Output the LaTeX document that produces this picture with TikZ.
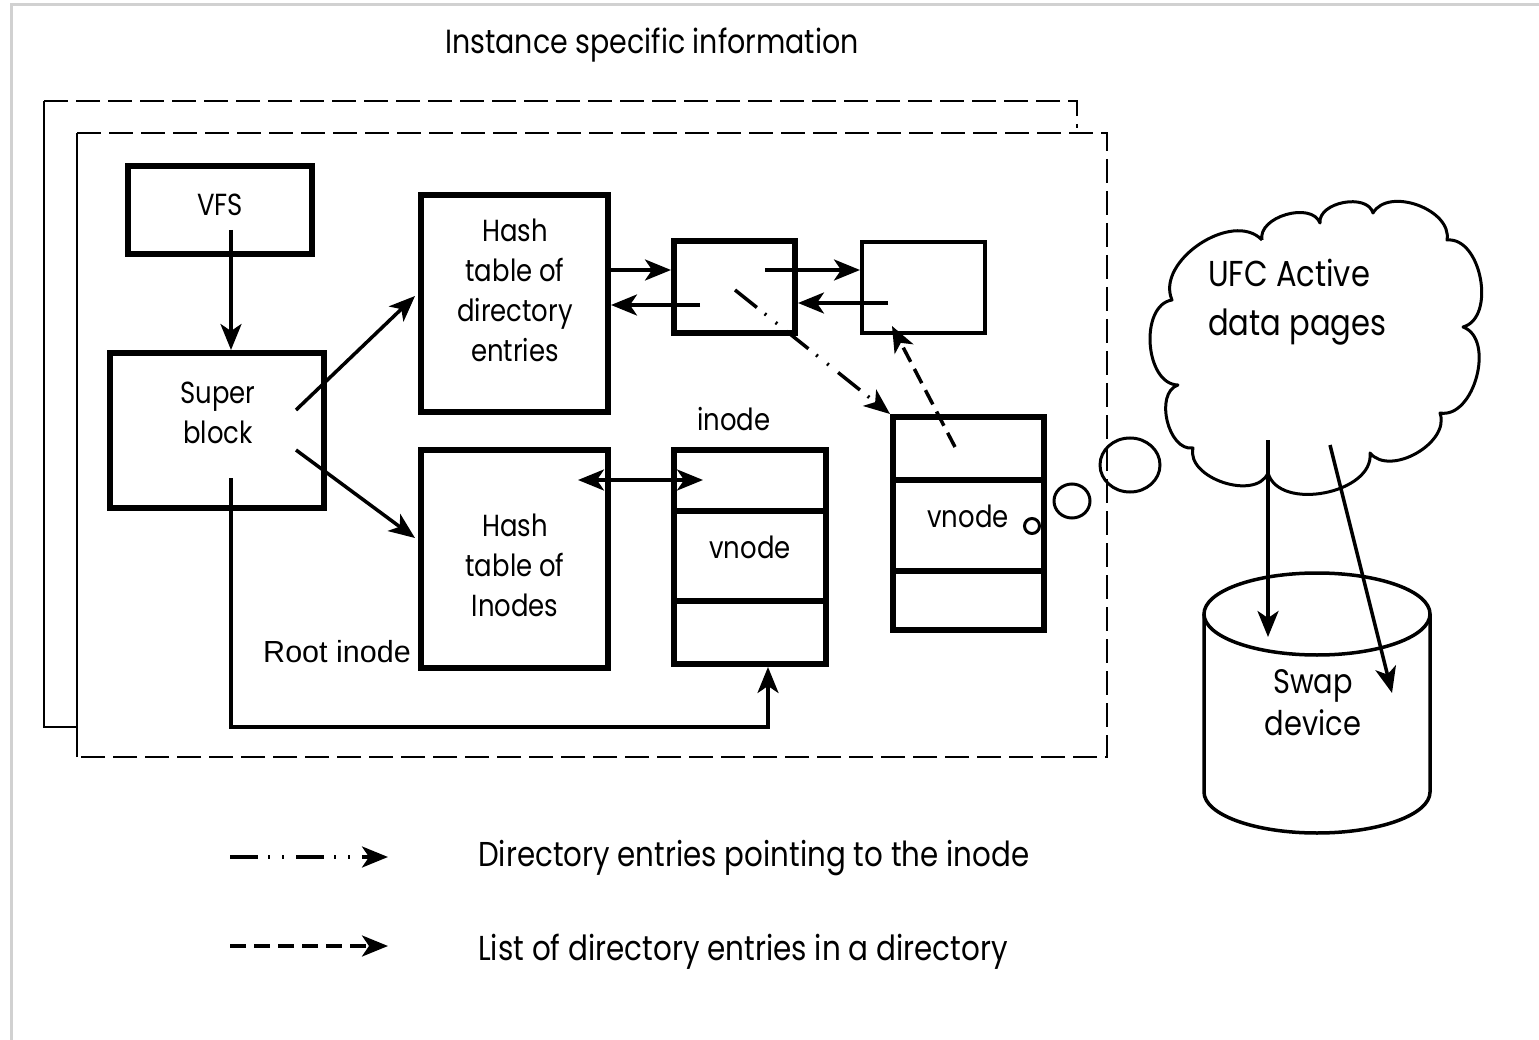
\documentclass[tikz,border=0pt]{standalone}
\usepackage{fontspec}
\setmainfont{Poppins}[FakeStretch=0.85]
\newfontfamily\rootfont{Liberation Sans}
\usetikzlibrary{arrows.meta,calc}
\tikzset{
  box/.style={draw, line width=6pt, inner sep=0pt},
  thinbox/.style={draw, line width=4pt, inner sep=0pt},
  lbl/.style={font=\fontsize{30.5}{40}\selectfont, align=center, inner sep=0pt},
  bigtxt/.style={font=\fontsize{34}{46}\selectfont, inner sep=0pt},
  tip/.style={-{Stealth[length=26pt,width=21pt,inset=7pt]}},
  arr/.style={line width=3.5pt, tip},
  darr/.style={line width=3.5pt, {Stealth[length=26pt,width=21pt,inset=7pt]}-{Stealth[length=26pt,width=21pt,inset=7pt]}},
  frame/.style={line width=2.5pt, dash pattern=on 24pt off 8pt},
  dashdot/.style={line width=3.5pt, dash pattern=on 28pt off 10pt on 2pt off 12pt on 2pt off 12pt},
  dsh/.style={line width=3.5pt, dash pattern=on 16pt off 8pt},
  thin/.style={line width=3pt},
}
\begin{document}
\begin{tikzpicture}[x=1pt,y=-1pt]
\useasboundingbox (0,0) rectangle (1539,1040);
\fill[white] (0,0) rectangle (1539,1040);
\draw[black!18, line width=3pt] (11,1040) -- (11,5) -- (1539,5);

% title
\node[bigtxt, font=\fontsize{33.5}{44}\selectfont] (title) at (652,45) {Instance specific information};

% instance frames
\draw[line width=2.5pt] (76,727) -- (44,727) -- (44,101);
\draw[frame] (44,101) -- (1077,101) -- (1077,128);
\draw[line width=2.5pt] (77,757) -- (77,133);
\draw[frame] (77,133) -- (1107,133) -- (1107,757) -- (77,757);

% boxes
\node[box, minimum width=184pt, minimum height=88pt] (vfs) at (220,210) {};
\node[lbl] (vfst) at (220,205) {VFS};
\node[box, minimum width=214pt, minimum height=155pt] (sup) at (217,430.5) {};
\node[lbl] (supt) at (218,413) {Super\\block};
\node[box, minimum width=187pt, minimum height=217pt] (hdir) at (514.5,303.5) {};
\node[lbl] (hdirt) at (515,290) {Hash\\table of\\directory\\entries};
\node[box, minimum width=187pt, minimum height=218pt] (hino) at (514.5,559) {};
\node[lbl] (hinot) at (515,565) {Hash\\table of\\Inodes};
\node[box, minimum width=152pt, minimum height=214pt] (ino) at (750,557) {};
\draw[line width=6pt] (ino.west |- 0,511) -- (ino.east |- 0,511);
\draw[line width=6pt] (ino.west |- 0,601) -- (ino.east |- 0,601);
\node[lbl] (inot) at (734,419) {inode};
\node[lbl] (inov) at (750,547) {vnode};
\node[box, minimum width=121pt, minimum height=92pt] (b1) at (734.5,287) {};
\node[thinbox, minimum width=123pt, minimum height=91pt] (b2) at (923.5,287.5) {};
\node[box, minimum width=151pt, minimum height=213pt] (vn) at (968.5,523.5) {};
\draw[line width=6pt] (vn.west |- 0,480) -- (vn.east |- 0,480);
\draw[line width=6pt] (vn.west |- 0,571) -- (vn.east |- 0,571);
\node[lbl] (vnt) at (968,516) {vnode};
\node[font=\rootfont\fontsize{30.5}{36}\selectfont, inner sep=0pt] (rootl) at (337,652) {Root inode};

% connectors
\coordinate (vfso) at (231,230);
\draw[arr] (vfso) -- (vfso |- sup.north);
\coordinate (s1) at (296,410);
\coordinate (s1e) at (415,296);
\draw[arr] (s1) -- (s1e);
\coordinate (s2) at (296,450);
\coordinate (s2e) at (415,538);
\draw[arr] (s2) -- (s2e);
\draw[arr] (hdir.east |- 0,270) -- (b1.west |- 0,270);
\coordinate (b1i) at (700,305);
\draw[arr] (b1i) -- (hdir.east |- b1i);
\coordinate (b1o) at (765,270);
\draw[arr] (b1o) -- (b2.west |- b1o);
\coordinate (b2i) at (888,303);
\draw[arr] (b2i) -- (b1.east |- b2i);
\coordinate (dd) at (735,290);
\draw[dashdot, tip] (dd) -- (vn.north west);
\coordinate (dsa) at (955,447);
\coordinate (dsb) at (892,326);
\draw[dsh, tip] (dsa) -- (dsb);
\coordinate (dba) at (578,480);
\coordinate (dbb) at (703,480);
\draw[darr] (dba) -- (dbb);
\coordinate (ro) at (231,478);
\coordinate (rc) at (768,727);
\draw[arr] (ro) |- (rc) -- (rc |- ino.south);

% thought bubbles
\draw[thin] (1032,526) circle (7.5pt);
\draw[thin] (1072,501) ellipse (18pt and 17pt);
\draw[thin] (1130,465) ellipse (30pt and 27pt);

% cloud
\draw[thin, line join=round]
  (1262,240) to[bend left=85] (1320,223)
  to[bend left=85] (1373,213)
  to[bend left=80] (1447,240)
  to[bend left=85] (1463,327)
  to[bend left=85] (1440,413)
  to[bend left=80] (1370,453)
  to[bend left=85] (1268,473)
  to[bend left=85] (1193,448)
  to[bend left=85] (1178,385)
  to[bend left=85] (1172,300)
  to[bend left=80] (1262,240);
\node[bigtxt, align=left, anchor=west, font=\fontsize{36}{49}\selectfont] (cloudt) at (1208,302) {UFC Active\\data pages};

% swap device
\coordinate (cyl) at (1317,703);
\draw[line width=3.5pt] (1204,614) -- (1204,792) arc[start angle=180, end angle=360, x radius=113pt, y radius=41pt] -- (1430,614);
\draw[line width=3.5pt] (1317,614) ellipse (113pt and 41pt);
\node[align=center, inner sep=0pt, font=\fontsize{34}{42}\selectfont] (swapt) at (1313,703) {Swap\\device};
\coordinate (ca) at (1268,440);
\coordinate (cb) at (1268,637);
\draw[arr] (ca) -- (cb);
\coordinate (cc) at (1330,445);
\coordinate (cd) at (1392,693);
\draw[arr] (cc) -- (cd);

% legend
\coordinate (l1s) at (230,857);
\coordinate (l1e) at (388,857);
\draw[dashdot, tip] (l1s) -- (l1e);
\node[bigtxt, anchor=west, font=\fontsize{34.5}{46}\selectfont] (l1t) at (478,858) {Directory entries pointing to the inode};
\coordinate (l2s) at (230,946);
\coordinate (l2e) at (388,946);
\draw[dsh, tip] (l2s) -- (l2e);
\node[bigtxt, anchor=west, font=\fontsize{34.6}{46}\selectfont] (l2t) at (478,952) {List of directory entries in a directory};
\end{tikzpicture}
\end{document}
